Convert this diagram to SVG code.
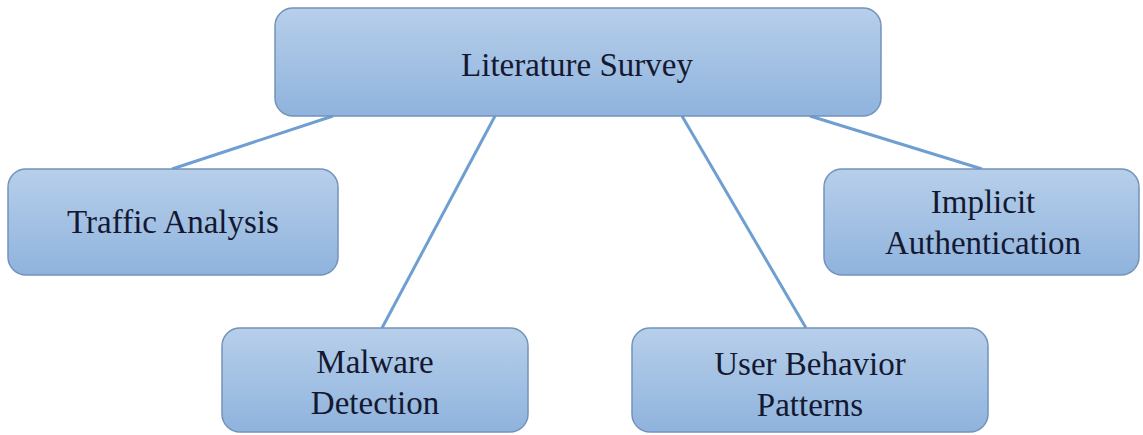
<svg xmlns="http://www.w3.org/2000/svg" width="1143" height="435" viewBox="0 0 1143 435">
  <style>
    .box { fill: url(#boxFill); stroke: #7393bb; stroke-width: 1.5; }
    .label { font-family: "Liberation Serif", "Times New Roman", serif; font-size: 33px; fill: #141830; text-anchor: middle; }
    .link { stroke: #6e9fd0; stroke-width: 3; fill: none; }
  </style>
  <defs>
    <linearGradient id="boxFill" x1="0" y1="0" x2="0" y2="1">
      <stop offset="0" stop-color="#b7cfea"/>
      <stop offset="1" stop-color="#8fb3dd"/>
    </linearGradient>
  </defs>
  <rect width="1143" height="435" fill="#ffffff"/>

  <g id="connectors">
    <line class="link" x1="333" y1="116" x2="172" y2="169"/>
    <line class="link" x1="495" y1="116" x2="382" y2="328"/>
    <line class="link" x1="682" y1="116" x2="806" y2="328"/>
    <line class="link" x1="810" y1="116" x2="982" y2="169"/>
  </g>

  <g id="literature-survey">
    <rect class="box" x="275" y="8" width="606" height="108" rx="18"/>
    <text class="label" x="577" y="76">Literature Survey</text>
  </g>

  <g id="traffic-analysis">
    <rect class="box" x="8" y="169" width="330" height="106" rx="18"/>
    <text class="label" x="173" y="233">Traffic Analysis</text>
  </g>

  <g id="implicit-authentication">
    <rect class="box" x="824" y="169" width="315" height="106" rx="18"/>
    <text class="label" x="983" y="213">Implicit</text>
    <text class="label" x="983" y="254">Authentication</text>
  </g>

  <g id="malware-detection">
    <rect class="box" x="222" y="328" width="306" height="104" rx="18"/>
    <text class="label" x="375" y="373">Malware</text>
    <text class="label" x="375" y="414">Detection</text>
  </g>

  <g id="user-behavior-patterns">
    <rect class="box" x="632" y="328" width="356" height="104" rx="18"/>
    <text class="label" x="810" y="375">User Behavior</text>
    <text class="label" x="810" y="416">Patterns</text>
  </g>
</svg>
